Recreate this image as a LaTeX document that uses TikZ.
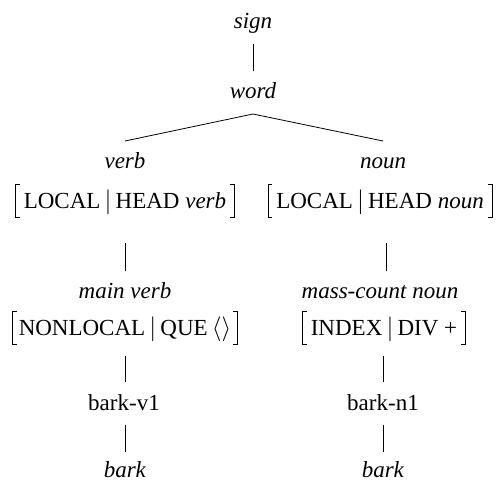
\documentclass[tikz,border=0pt]{standalone}
\usepackage{fontspec}
\setmainfont{Liberation Serif}
\begin{document}
\begin{tikzpicture}[x=1pt,y=-1pt,
  lbl/.style={anchor=base,inner sep=0pt,font=\fontsize{23}{27}\selectfont},
  avm/.style={lbl,inner xsep=8pt},
  edge/.style={line width=0.8pt},
  brk/.style={line width=0.8pt}]
\useasboundingbox (0,0) rectangle (500,483);
\newcommand{\brackets}[1]{%
  \draw[brk] ([xshift=4pt,yshift=24pt]#1.base west) -- ([yshift=24pt]#1.base west)
     -- ([yshift=-9pt]#1.base west) -- ([xshift=4pt,yshift=-9pt]#1.base west);
  \draw[brk] ([xshift=-4pt,yshift=24pt]#1.base east) -- ([yshift=24pt]#1.base east)
     -- ([yshift=-9pt]#1.base east) -- ([xshift=-4pt,yshift=-9pt]#1.base east);}
% nodes
\node[lbl] (sign) at (253,28) {\textit{sign}};
\node[lbl] (word) at (253,98) {\textit{word}};
\node[lbl] (verb) at (125,168) {\textit{verb}};
\node[lbl] (noun) at (383,168) {\textit{noun}};
\node[avm] (avmA) at (125,208) {LOCAL$\,|\,$HEAD \textit{verb}};
\node[avm] (avmB) at (380,208) {LOCAL$\,|\,$HEAD \textit{noun}};
\node[lbl] (mv) at (125,298) {\textit{main verb}};
\node[lbl] (mcn) at (380,298) {\textit{mass-count noun}};
\node[avm,inner xsep=6pt] (avmC) at (125,335) {NONLOCAL$\,|\,$QUE$\,\langle\rangle$};
\node[avm] (avmD) at (384,335) {INDEX$\,|\,$DIV +};
\node[lbl] (bv) at (124,410) {bark-v1};
\node[lbl] (bn) at (383,410) {bark-n1};
\node[lbl] (barkv) at (125,477) {\textit{bark}};
\node[lbl] (barkn) at (383,477) {\textit{bark}};
\brackets{avmA}
\brackets{avmB}
\brackets{avmC}
\brackets{avmD}
% connectors
\draw[edge] ([yshift=-16pt]sign.base) -- ([yshift=27pt]word.base);
\draw[edge] ([yshift=-16pt]word.base) -- ([yshift=27pt]verb.base);
\draw[edge] ([yshift=-16pt]word.base) -- ([yshift=27pt]noun.base);
\draw[edge] ([yshift=-35pt]avmA.base) -- ([yshift=27pt]mv.base);
\draw[edge] ([xshift=6pt,yshift=-35pt]avmB.base) -- ([xshift=6pt,yshift=27pt]mcn.base);
\draw[edge] ([yshift=-21pt]avmC.base) -- ([xshift=1pt,yshift=28pt]bv.base);
\draw[edge] ([xshift=-1pt,yshift=-21pt]avmD.base) -- ([yshift=28pt]bn.base);
\draw[edge] ([xshift=1pt,yshift=-15pt]bv.base) -- ([yshift=25pt]barkv.base);
\draw[edge] ([yshift=-15pt]bn.base) -- ([yshift=25pt]barkn.base);
\end{tikzpicture}
\end{document}
